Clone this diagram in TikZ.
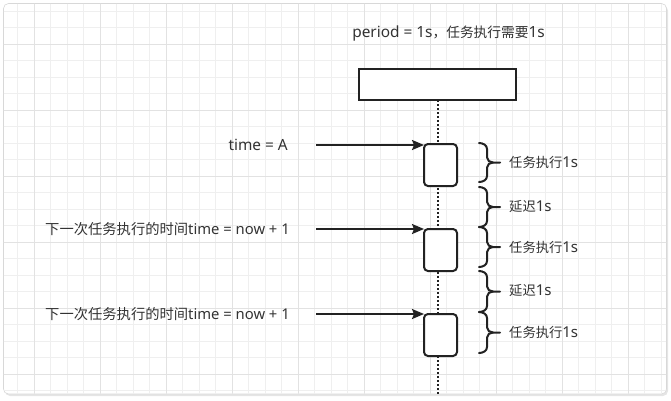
\documentclass[tikz,border=0pt]{standalone}
\usepackage{fontspec}
\setmainfont{Noto Sans}
\newfontfamily\cjkf{Noto Sans CJK SC}
\usetikzlibrary{arrows.meta}
\definecolor{ink}{HTML}{222222}
\definecolor{txt}{HTML}{333333}
\definecolor{gridminor}{HTML}{EFEFEF}
\definecolor{gridmajor}{HTML}{E2E2E2}
\definecolor{framecol}{HTML}{D8D8D8}
\newcommand\LT[2]{{\fontsize{#1}{#1}\selectfont #2}}
\newcommand\CJ[2]{{\cjkf\fontsize{#1}{#1}\selectfont #2}}
\tikzset{
  lbl/.style={inner sep=0pt, text=txt},
  actbox/.style={draw=ink, line width=2pt, fill=white, rounded corners=4pt, minimum width=33pt, minimum height=42pt, inner sep=0pt, outer sep=0pt},
  topbox/.style={draw=ink, line width=2pt, fill=white, minimum width=157pt, minimum height=31pt, inner sep=0pt, outer sep=0pt},
  callarrow/.style={draw=ink, line width=2pt, -{Stealth[length=12pt,width=10pt,inset=2pt]}},
  lifeline/.style={draw=ink, line width=2pt, dash pattern=on 2pt off 2pt},
  bracestyle/.style={draw=ink, line width=2pt, line cap=round}
}
\newcommand\curlybr[2]{%
  \pgfmathsetmacro\ymid{(#1+#2)/2}
  \draw[bracestyle] (479,#1) to[out=0,in=90] (487,{#1+6}) -- (487,{\ymid-5}) to[out=-90,in=180] (493,\ymid) -- (500,\ymid);
  \draw[bracestyle] (493,\ymid) to[out=180,in=90] (487,{\ymid+5}) -- (487,{#2-6}) to[out=-90,in=0] (479,#2);
}
\begin{document}
\begin{tikzpicture}[x=1pt,y=-1pt]
\useasboundingbox (0,0) rectangle (671,400);
% frame with shadow
\fill[black!10, rounded corners=5pt] (5,5.5) rectangle (668,396);
\filldraw[fill=white, draw=framecol, line width=0.6pt, rounded corners=5pt] (3.5,3.5) rectangle (666.5,394);
\begin{scope}
  \clip[rounded corners=5pt] (3.8,3.8) rectangle (666.2,393.7);
  \foreach \k in {0,...,40} {
    \draw[gridminor, line width=1pt] ({1.3+16.5*\k},0) -- ({1.3+16.5*\k},400);
  }
  \foreach \k in {0,...,24} {
    \draw[gridminor, line width=1pt] (0,{11.3+16.5*\k}) -- (671,{11.3+16.5*\k});
  }
  \foreach \k in {0,...,10} {
    \draw[gridmajor, line width=1pt] ({34.3+66*\k},0) -- ({34.3+66*\k},400);
  }
  \foreach \k in {0,...,5} {
    \draw[gridmajor, line width=1pt] (0,{44.3+66*\k}) -- (671,{44.3+66*\k});
  }
\end{scope}
% title
\node[lbl] (title) at (448.5,33) {\LT{15.4}{period = 1s}\CJ{13.7}{，任务执行需要}\LT{15.4}{1s}};
% top box and lifeline
\node[topbox] (top) at (437.5,84.5) {};
\coordinate (lifeend) at (438,394);
\draw[lifeline] (top.south -| lifeend) -- (lifeend);
% activation boxes
\node[actbox] (act1) at (440.5,165) {};
\node[actbox] (act2) at (440.5,250) {};
\node[actbox] (act3) at (440.5,335) {};
% call labels and arrows
\node[lbl, anchor=east] (l1) at (288,145) {\LT{15.4}{time = A}};
\node[lbl, anchor=west] (l2) at (45,229.5) {\CJ{14.3}{下一次任务执行的时间}\LT{14.8}{time = now + 1}};
\node[lbl, anchor=west] (l3) at (45,314.5) {\CJ{14.3}{下一次任务执行的时间}\LT{14.8}{time = now + 1}};
\coordinate (s1) at (316,145);
\coordinate (s2) at (316,229);
\coordinate (s3) at (316,314);
\draw[callarrow] (s1) -- (s1 -| act1.west);
\draw[callarrow] (s2) -- (s2 -| act2.west);
\draw[callarrow] (s3) -- (s3 -| act3.west);
% braces
\curlybr{143}{182}
\curlybr{187}{227}
\curlybr{227}{267}
\curlybr{271}{312}
\curlybr{312}{353}
% brace labels
\node[lbl, anchor=west] (b1) at (509,162.7) {\CJ{13.3}{任务执行}\LT{15}{1s}};
\node[lbl, anchor=west] (b2) at (509,206.7) {\CJ{13.3}{延迟}\LT{15}{1s}};
\node[lbl, anchor=west] (b3) at (509,247) {\CJ{13.3}{任务执行}\LT{15}{1s}};
\node[lbl, anchor=west] (b4) at (509,290.7) {\CJ{13.3}{延迟}\LT{15}{1s}};
\node[lbl, anchor=west] (b5) at (509,332.2) {\CJ{13.3}{任务执行}\LT{15}{1s}};
\end{tikzpicture}
\end{document}
